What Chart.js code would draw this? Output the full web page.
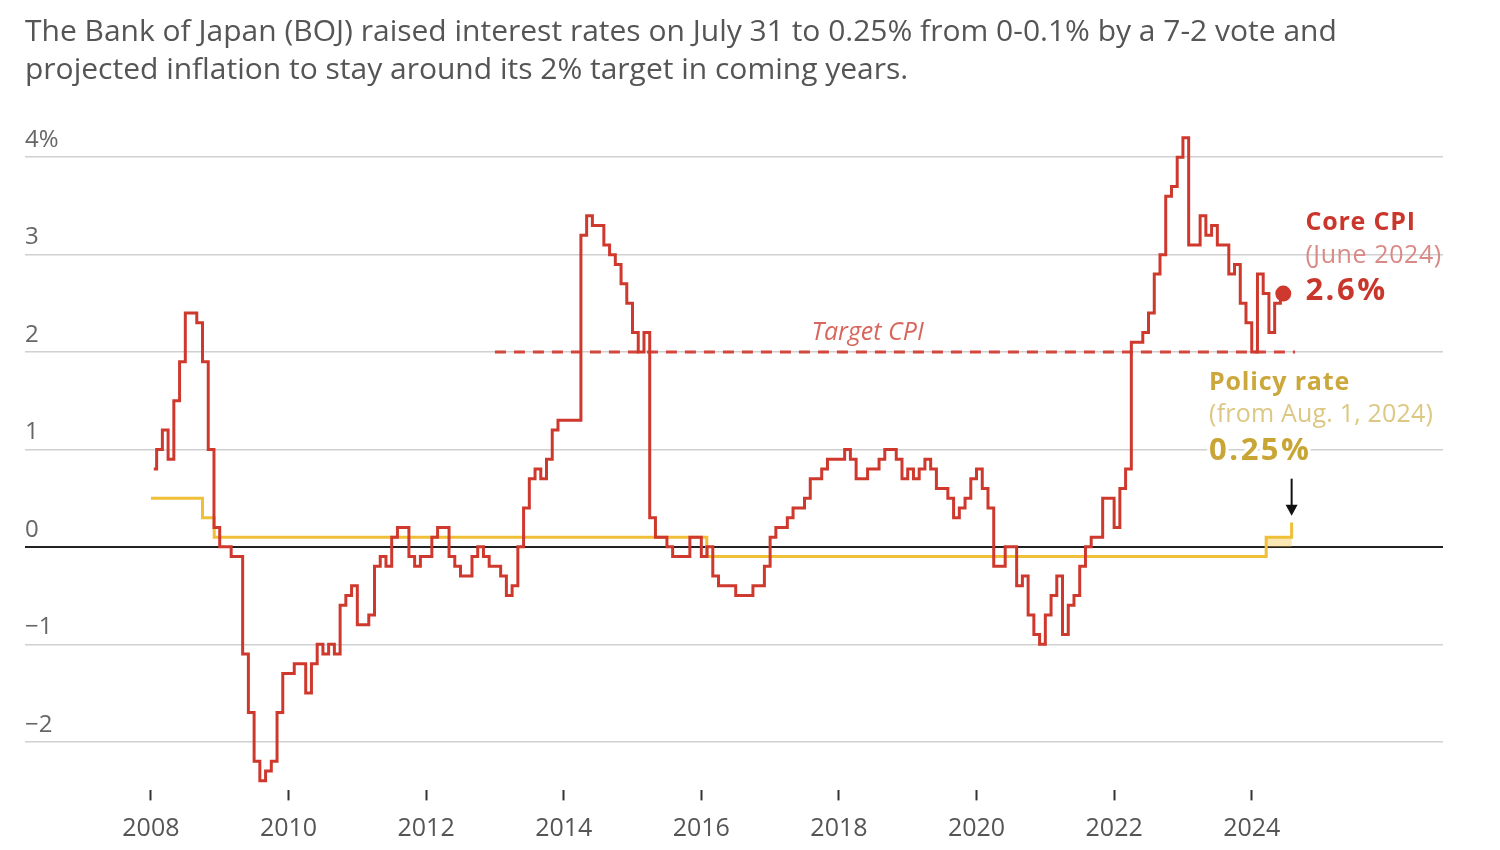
<!DOCTYPE html>
<html>
<head>
<meta charset="utf-8">
<script src="https://cdn.jsdelivr.net/npm/chart.js@4.4.1/dist/chart.umd.min.js"></script>
<style>
html, body { margin: 0; padding: 0; background: #fff; }
#wrap { position: relative; width: 1500px; height: 850px; }
#title {
    position: absolute; left: 25px; top: 11px;
    font-family: "Open Sans", sans-serif; font-size: 30px; line-height: 38px; color: #555;
}
canvas { position: absolute; left: 0; top: 0; }
</style>
</head>
<body>
<div id="wrap">
    <canvas id="bojChart" width="1500" height="850"></canvas>
    <div id="title">The Bank of Japan (BOJ) raised interest rates on July 31 to 0.25% from 0-0.1% by a 7-2 vote and<br>projected inflation to stay around its 2% target in coming years.</div>
</div>
<script>
// core CPI (ex fresh food), y/y %, monthly from Jan 2008
const cpiStartYear = 2008;
const coreCpiByYear = [
    [0.8, 1.0, 1.2, 0.9, 1.5, 1.9, 2.4, 2.4, 2.3, 1.9, 1.0, 0.2],          // 2008
    [0.0, 0.0, -0.1, -0.1, -1.1, -1.7, -2.2, -2.4, -2.3, -2.2, -1.7, -1.3], // 2009
    [-1.3, -1.2, -1.2, -1.5, -1.2, -1.0, -1.1, -1.0, -1.1, -0.6, -0.5, -0.4], // 2010
    [-0.8, -0.8, -0.7, -0.2, -0.1, -0.2, 0.1, 0.2, 0.2, -0.1, -0.2, -0.1],  // 2011
    [-0.1, 0.1, 0.2, 0.2, -0.1, -0.2, -0.3, -0.3, -0.1, 0.0, -0.1, -0.2],   // 2012
    [-0.2, -0.3, -0.5, -0.4, 0.0, 0.4, 0.7, 0.8, 0.7, 0.9, 1.2, 1.3],       // 2013
    [1.3, 1.3, 1.3, 3.2, 3.4, 3.3, 3.3, 3.1, 3.0, 2.9, 2.7, 2.5],           // 2014
    [2.2, 2.0, 2.2, 0.3, 0.1, 0.1, 0.0, -0.1, -0.1, -0.1, 0.1, 0.1],        // 2015
    [-0.1, 0.0, -0.3, -0.4, -0.4, -0.4, -0.5, -0.5, -0.5, -0.4, -0.4, -0.2], // 2016
    [0.1, 0.2, 0.2, 0.3, 0.4, 0.4, 0.5, 0.7, 0.7, 0.8, 0.9, 0.9],           // 2017
    [0.9, 1.0, 0.9, 0.7, 0.7, 0.8, 0.8, 0.9, 1.0, 1.0, 0.9, 0.7],           // 2018
    [0.8, 0.7, 0.8, 0.9, 0.8, 0.6, 0.6, 0.5, 0.3, 0.4, 0.5, 0.7],           // 2019
    [0.8, 0.6, 0.4, -0.2, -0.2, 0.0, 0.0, -0.4, -0.3, -0.7, -0.9, -1.0],    // 2020
    [-0.7, -0.5, -0.3, -0.9, -0.6, -0.5, -0.2, 0.0, 0.1, 0.1, 0.5, 0.5],    // 2021
    [0.2, 0.6, 0.8, 2.1, 2.1, 2.2, 2.4, 2.8, 3.0, 3.6, 3.7, 4.0],           // 2022
    [4.2, 3.1, 3.1, 3.4, 3.2, 3.3, 3.1, 3.1, 2.8, 2.9, 2.5, 2.3],           // 2023
    [2.0, 2.8, 2.6, 2.2, 2.5, 2.6]                                          // 2024 (to June)
];

// BOJ policy rate changes (decimal year, %)
const policyDates = [2008.0, 2008.75, 2008.92, 2016.08, 2024.21, 2024.58];
const policyRates = [0.5, 0.3, 0.1, -0.1, 0.1, 0.25];
// 0-0.1% range from March 2024
const rangeDates = [2024.21, 2024.58];
const rangeBounds = [0, 0.1];

const targetDates = [2013.0, 2024.63];
const targetCpi = 2;

const yearTicks = [2008, 2010, 2012, 2014, 2016, 2018, 2020, 2022, 2024];
const yTicks = [-2, -1, 0, 1, 2, 3, 4];
const yTickLabels = ['\u22122', '\u22121', '0', '1', '2', '3', '4%'];

const cpiPoints = [];
coreCpiByYear.forEach((row, yi) => {
    row.forEach((v, m) => {
        cpiPoints.push({ x: cpiStartYear + yi + (m + 0.5) / 12, y: v });
    });
});
const policyPoints = policyDates.map((d, i) => ({ x: d, y: policyRates[i] }));
const targetPoints = targetDates.map(d => ({ x: d, y: targetCpi }));

const RED = '#cf382d';
const YELLOW = '#efbf38';
const FONT = '"Open Sans", sans-serif';

function noteText(ctx, text, x, y, font, color, spacing, halo) {
    ctx.font = font;
    ctx.letterSpacing = spacing + 'px';
    ctx.textAlign = 'left';
    ctx.textBaseline = 'middle';
    if (halo) {
        ctx.lineJoin = 'round';
        ctx.lineWidth = 6;
        ctx.strokeStyle = '#fff';
        ctx.strokeText(text, x, y);
    }
    ctx.fillStyle = color;
    ctx.fillText(text, x, y);
    ctx.letterSpacing = '0px';
}

const notesPlugin = {
    id: 'notes',
    beforeDatasetsDraw(chart) {
        const { ctx, scales: { x, y } } = chart;
        ctx.save();
        ctx.fillStyle = 'rgba(240,195,70,0.4)';
        const x0 = x.getPixelForValue(rangeDates[0]);
        const x1 = x.getPixelForValue(rangeDates[1]);
        const y0 = y.getPixelForValue(rangeBounds[1]);
        const y1 = y.getPixelForValue(rangeBounds[0]);
        ctx.fillRect(x0, y0, x1 - x0, y1 - y0);
        ctx.restore();
    },
    afterDatasetsDraw(chart) {
        const { ctx, scales: { x, y } } = chart;
        ctx.save();
        // target label
        noteText(ctx, 'Target CPI', x.getPixelForValue(2017.6), y.getPixelForValue(2.2),
            'italic 25px ' + FONT, '#d8665c', 0, false);

        // core CPI labels
        const cx = x.getPixelForValue(2024.78);
        noteText(ctx, 'Core CPI', cx, y.getPixelForValue(3.33), 'bold 25px ' + FONT, '#c9372c', 0.8, false);
        noteText(ctx, '(June 2024)', cx, y.getPixelForValue(2.99), '25px ' + FONT, '#d98a86', 0.6, false);
        noteText(ctx, '2.6%', cx, y.getPixelForValue(2.62), 'bold 31px ' + FONT, '#c9372c', 2.5, false);

        // policy labels
        const px = x.getPixelForValue(2023.38);
        noteText(ctx, 'Policy rate', px, y.getPixelForValue(1.685), 'bold 25px ' + FONT, '#cca83c', 0.8, false);
        noteText(ctx, '(from Aug. 1, 2024)', px, y.getPixelForValue(1.36), '25px ' + FONT, '#dcc783', 0.2, false);
        noteText(ctx, '0.25%', px, y.getPixelForValue(0.98), 'bold 31px ' + FONT, '#c9a536', 2.5, true);

        // arrow to the rate hike
        const ax = x.getPixelForValue(policyDates[policyDates.length - 1]);
        const aTop = y.getPixelForValue(0.7);
        const aTip = y.getPixelForValue(0.32);
        ctx.strokeStyle = '#111';
        ctx.fillStyle = '#111';
        ctx.lineWidth = 2;
        ctx.beginPath();
        ctx.moveTo(ax, aTop);
        ctx.lineTo(ax, aTip - 8);
        ctx.stroke();
        ctx.beginPath();
        ctx.moveTo(ax - 6, aTip - 11);
        ctx.lineTo(ax + 6, aTip - 11);
        ctx.lineTo(ax, aTip);
        ctx.closePath();
        ctx.fill();
        ctx.restore();
    }
};

const ctx = document.getElementById('bojChart').getContext('2d');
const bojChart = new Chart(ctx, {
    type: 'line',
    data: {
        datasets: [{
            label: 'Core CPI',
            data: cpiPoints,
            borderColor: RED,
            backgroundColor: RED,
            borderWidth: 3,
            stepped: 'middle',
            pointRadius: cpiPoints.map((p, i) => i === cpiPoints.length - 1 ? 7 : 0),
            pointBorderWidth: 2
        }, {
            label: 'Policy rate',
            data: policyPoints,
            borderColor: YELLOW,
            borderWidth: 3,
            stepped: 'before',
            pointRadius: 0
        }, {
            label: 'Target CPI',
            data: targetPoints,
            borderColor: '#d2463c',
            borderWidth: 3,
            borderDash: [11, 8],
            pointRadius: 0
        }]
    },
    options: {
        responsive: false,
        animation: false,
        devicePixelRatio: 1,
        layout: { padding: { left: 25, right: 57, top: 128, bottom: 0 } },
        plugins: {
            legend: { display: false },
            tooltip: { enabled: false }
        },
        scales: {
            x: {
                type: 'linear',
                min: 2006.17,
                max: 2026.78,
                afterBuildTicks: s => { s.ticks = yearTicks.map(v => ({ value: v })); },
                afterFit: s => { s.height = 59.6; },
                grid: { drawOnChartArea: false, drawTicks: true, tickLength: 10, tickWidth: 2, tickColor: '#333' },
                border: { display: false },
                ticks: {
                    autoSkip: false,
                    maxRotation: 0,
                    padding: 13,
                    color: '#555',
                    font: { family: FONT, size: 25 },
                    callback: v => String(v)
                }
            },
            y: {
                min: -2.5,
                max: 4.3,
                afterBuildTicks: s => { s.ticks = yTicks.map(v => ({ value: v })); },
                afterFit: s => { s.width = 0; },
                grid: {
                    drawTicks: false,
                    color: c => c.tick && c.tick.value === 0 ? '#222' : '#d0d0d0',
                    lineWidth: c => c.tick && c.tick.value === 0 ? 2 : 1.5
                },
                border: { display: false },
                ticks: {
                    mirror: true,
                    padding: 0,
                    labelOffset: -17,
                    color: '#666',
                    font: { family: FONT, size: 24 },
                    callback: v => yTickLabels[yTicks.indexOf(v)]
                }
            }
        }
    },
    plugins: [notesPlugin]
});
</script>
</body>
</html>
